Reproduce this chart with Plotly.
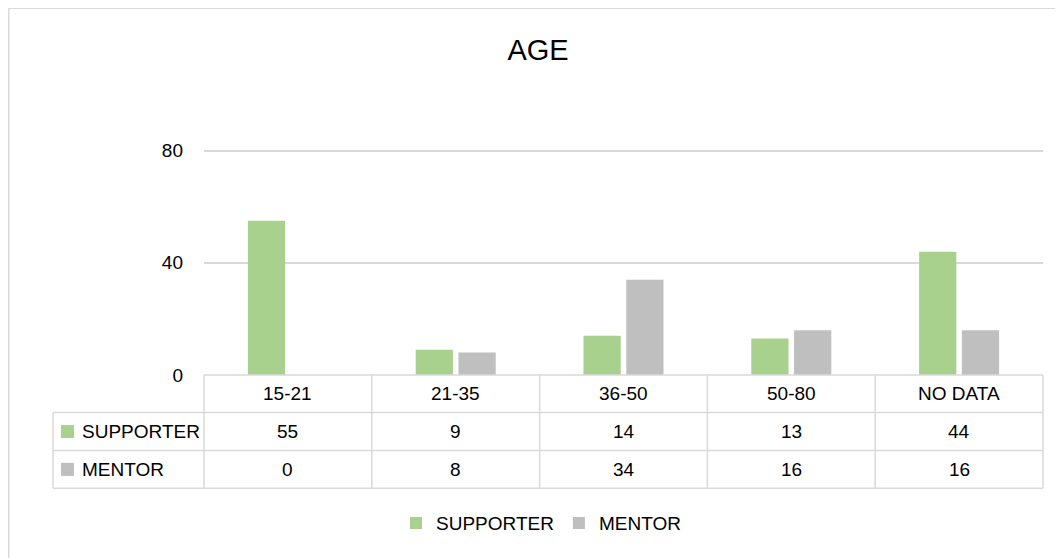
import plotly.graph_objects as go

categories = ["15-21", "21-35", "36-50", "50-80", "NO DATA"]
supporter = [55, 9, 14, 13, 44]
mentor = [0, 8, 34, 16, 16]
series_names = ["SUPPORTER", "MENTOR"]
y_ticks = [0, 40, 80]

GREEN = "#a9d18e"
GRAY = "#bfbfbf"
LINE = "#d9d9d9"
FONT = "Liberation Sans"
TXT = "#000000"

W, H = 1063, 558
OFF = 8  # page body margin offset
YMAX = 80.6

# plot area in page pixels (reference), converted to figure pixels
L, R = 204 - OFF, 1043 - OFF
B = 375 - OFF
T = B - (375 - 151) * YMAX / 80


def fx(px):
    return (px - OFF - L) / (R - L)


def fy(py):
    return (B - (py - OFF)) / (B - T)


fig = go.Figure()
fig.add_trace(go.Bar(name=series_names[0], x=categories, y=supporter,
                     marker_color=GREEN, marker_line_width=0))
fig.add_trace(go.Bar(name=series_names[1], x=categories, y=mentor,
                     marker_color=GRAY, marker_line_width=0))

shapes = []
annotations = []

# table geometry (reference page pixels)
row_edges = [375, 412.5, 450.5, 488]
left_x = 53
n = len(categories)


def hline(x0, x1, y):
    shapes.append(dict(type="line", xref="x domain", yref="y domain",
                       x0=x0, x1=x1, y0=fy(y), y1=fy(y),
                       line=dict(color=LINE, width=1.5)))


def vline(x, y0, y1):
    shapes.append(dict(type="line", xref="x domain", yref="y domain",
                       x0=x, x1=x, y0=fy(y0), y1=fy(y1),
                       line=dict(color=LINE, width=1.5)))


hline(0, 1, row_edges[0])
for ye in row_edges[1:]:
    hline(fx(left_x), 1, ye)
vline(fx(left_x), row_edges[1], row_edges[3])
for i in range(n + 1):
    vline(i / n, row_edges[0], row_edges[3])

# header labels
for i, c in enumerate(categories):
    annotations.append(dict(xref="x domain", yref="y domain",
                            x=(i + 0.5) / n,
                            y=fy((row_edges[0] + row_edges[1]) / 2),
                            text=c, showarrow=False, xanchor="center", yanchor="middle",
                            font=dict(family=FONT, size=19, color=TXT)))

# data rows
for r, (name, vals, col) in enumerate(zip(series_names, [supporter, mentor], [GREEN, GRAY])):
    yc = (row_edges[r + 1] + row_edges[r + 2]) / 2
    shapes.append(dict(type="rect", xref="x domain", yref="y domain",
                       x0=fx(61), x1=fx(74), y0=fy(yc - 6.5), y1=fy(yc + 6.5),
                       fillcolor=col, line=dict(width=0)))
    annotations.append(dict(xref="x domain", yref="y domain", x=fx(80), y=fy(yc),
                            text=name, showarrow=False, xanchor="left", yanchor="middle",
                            font=dict(family=FONT, size=19, color=TXT)))
    for i, v in enumerate(vals):
        annotations.append(dict(xref="x domain", yref="y domain",
                                x=(i + 0.5) / n, y=fy(yc),
                                text=str(v), showarrow=False, xanchor="center", yanchor="middle",
                                font=dict(family=FONT, size=19, color=TXT)))

# chart outer border (top and left visible)
EDGE = OFF + 0.8
shapes.append(dict(type="line", xref="paper", yref="paper",
                   x0=fx(EDGE), x1=fx(W + OFF), y0=fy(EDGE), y1=fy(EDGE),
                   line=dict(color=LINE, width=1.5)))
shapes.append(dict(type="line", xref="paper", yref="paper",
                   x0=fx(EDGE), x1=fx(EDGE), y0=fy(EDGE), y1=fy(H + OFF),
                   line=dict(color=LINE, width=1.5)))

fig.update_layout(
    width=W, height=H,
    margin=dict(l=L, r=W - R, t=T, b=H - B, pad=0),
    paper_bgcolor="white", plot_bgcolor="white",
    title=dict(text="AGE", x=(538 - OFF) / W, xref="container", xanchor="center",
               y=1 - (50 - OFF) / H, yref="container", yanchor="middle",
               font=dict(family=FONT, size=29, color=TXT)),
    barmode="group", bargap=0.49, bargroupgap=0.13,
    showlegend=True,
    legend=dict(orientation="h", x=fx(541), xanchor="center", y=fy(523), yanchor="middle",
                font=dict(family=FONT, size=19, color=TXT), itemwidth=30,
                traceorder="normal", bgcolor="rgba(0,0,0,0)"),
    xaxis=dict(range=[-0.5, n - 0.5], showticklabels=False, showgrid=False,
               zeroline=False, showline=False, ticks=""),
    yaxis=dict(range=[0, YMAX], tickvals=y_ticks, showgrid=True, gridcolor=LINE, gridwidth=1.5,
               zeroline=False, showline=False, ticks="", ticklabelstandoff=20,
               tickfont=dict(family=FONT, size=19, color=TXT)),
    shapes=shapes, annotations=annotations,
)

fig.write_html("out.html")
